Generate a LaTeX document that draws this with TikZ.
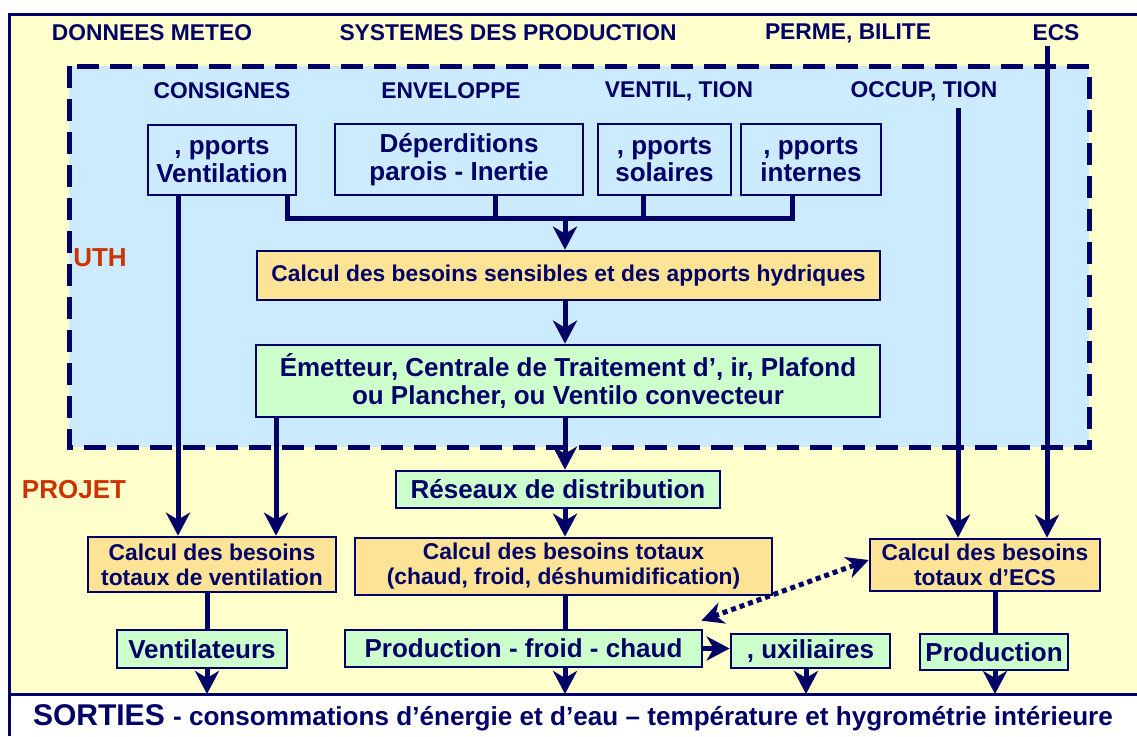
\documentclass[tikz,border=0pt]{standalone}
\usepackage{fontspec}
\setmainfont{Liberation Sans}
\usetikzlibrary{arrows.meta}
\definecolor{navy}{HTML}{000066}
\definecolor{bgy}{HTML}{FFFFCC}
\definecolor{bgb}{HTML}{CCEBFF}
\definecolor{org}{HTML}{FDE396}
\definecolor{grn}{HTML}{CCFFCC}
\definecolor{rd}{HTML}{CC3300}
\newcommand\fsA{\fontsize{26}{27.7}\selectfont\bfseries}
\newcommand\fsB{\fontsize{22.8}{25}\selectfont\bfseries}
\newcommand\fsC{\fontsize{26.1}{28}\selectfont\bfseries}
\newcommand\fsD{\fontsize{30}{30}\selectfont\bfseries}
\begin{document}
\begin{tikzpicture}[x=1pt,y=-1pt,
  bx/.style={draw=navy, line width=2.7pt, inner sep=0pt, align=center, text=navy},
  gbox/.style={bx, fill=grn, font=\fsA},
  bbox/.style={bx, fill=bgb, font=\fsA},
  obox/.style={bx, fill=org, font=\fsB},
  hd/.style={text=navy, font=\fsB, inner sep=0pt},
  lbl/.style={text=rd, font=\fsA, inner sep=0pt},
  ln/.style={draw=navy, line width=5pt},
  arr/.style={ln, -{Stealth[length=23pt,width=24pt,inset=7pt]}},
  dotarr/.style={draw=navy, line width=5pt, dash pattern=on 5pt off 4pt,
     {Stealth[length=22pt,width=22pt,inset=7pt]}-{Stealth[length=22pt,width=22pt,inset=7pt]}},
  frame/.style={draw=navy, line width=3pt}]
\useasboundingbox (0,0) rectangle (1137,736);
% backgrounds
\fill[white] (0,0) rectangle (1137,736);
\fill[bgy] (9,14) rectangle (1137,694);
\fill[bgb] (69,66) rectangle (1089,447);
\draw[navy, line width=5pt, dash pattern=on 22pt off 11pt] (69,66) rectangle (1089,447);
\draw[frame] (1137,14) -- (9,14) -- (9,736);
\coordinate (bot) at (9,694);
\draw[frame] (bot) -- (1137,694);
% headings
\node[hd] (h1) at (152,33) {DONNEES METEO};
\node[hd] (h2) at (508,33) {SYSTEMES DES PRODUCTION};
\node[hd] (h3) at (848,33) {PERME, BILITE};
\node[hd] (h4) at (1056,33) {ECS};
\node[hd] (h5) at (222,91) {CONSIGNES};
\node[hd] (h6) at (451,91) {ENVELOPPE};
\node[hd] (h7) at (679,91) {VENTIL, TION};
\node[hd] (h8) at (924,91) {OCCUP, TION};
\node[lbl] (uth) at (100,258) {UTH};
\node[lbl] (proj) at (74,490) {PROJET};
% boxes
\node[bbox, minimum width=148, minimum height=70] (av) at (222,160) {, pports\\Ventilation};
\node[bbox, minimum width=248, minimum height=71] (dep) at (459,159.5) {Déperditions\\parois - Inertie};
\node[bbox, minimum width=133, minimum height=71] (sol) at (664.5,159.5) {, pports\\solaires};
\node[bbox, minimum width=140, minimum height=71] (int) at (811,159.5) {, pports\\internes};
\node[obox, minimum width=623, minimum height=49] (sens) at (568.5,275.5) {Calcul des besoins sensibles et des apports hydriques};
\node[gbox, minimum width=624, minimum height=72] (em) at (568,381) {Émetteur, Centrale de Traitement d’, ir, Plafond\\ou Plancher, ou Ventilo convecteur};
\node[gbox, minimum width=324, minimum height=37] (res) at (558,489.5) {Réseaux de distribution};
\node[obox, minimum width=417, minimum height=57] (tot) at (563.5,566.5) {Calcul des besoins totaux\\(chaud, froid, déshumidification)};
\node[obox, minimum width=248, minimum height=55] (vc) at (212,564.5) {Calcul des besoins\\totaux de ventilation};
\node[gbox, minimum width=170, minimum height=38] (vent) at (202,649) {Ventilateurs};
\node[gbox, minimum width=357, minimum height=37] (pfc) at (523.5,648.5) {Production - froid - chaud};
\node[gbox, minimum width=159, minimum height=34] (aux) at (810.5,651) {, uxiliaires};
\node[obox, minimum width=230, minimum height=52] (ecs) at (985,565) {Calcul des besoins\\totaux d’ECS};
\node[gbox, minimum width=148, minimum height=36] (pecs) at (994,652) {Production};
% bottom text
\node[text=navy, inner sep=0pt] (sort) at (573,718) {\fsD SORTIES \fsC - consommations d’énergie et d’eau – température et hygrométrie intérieure};
% connectors
\coordinate (bus) at (565,218);
\coordinate (avL) at ([xshift=-44pt]av.south);
\coordinate (avR) at ([xshift=65pt]av.south);
\coordinate (depS) at ([xshift=36pt]dep.south);
\coordinate (solS) at ([xshift=-21.5pt]sol.south);
\coordinate (intS) at ([xshift=-19pt]int.south);
\coordinate (emL) at ([xshift=-292pt]em.south);
\coordinate (cV) at (207,0);
\coordinate (cA) at (806,0);
\coordinate (cE) at (995,0);
\coordinate (cO) at (958,108);
\coordinate (cS) at (1047,46);
\draw[arr] (avL) -- (avL |- vc.north);
\draw[ln] (avR) -- (avR |- bus) -- (intS |- bus) -- (intS);
\draw[ln] (depS) -- (depS |- bus);
\draw[ln] (solS) -- (solS |- bus);
\draw[arr] (bus) -- (bus |- sens.north);
\draw[arr] (sens.south -| bus) -- (em.north -| bus);
\draw[arr] (em.south -| bus) -- (res.north -| bus);
\draw[arr] (emL) -- (emL |- vc.north);
\draw[arr] (res.south -| bus) -- (tot.north -| bus);
\draw[ln] (tot.south -| bus) -- (pfc.north -| bus);
\draw[arr] (pfc.south -| bus) -- (bot -| bus);
\draw[ln] (vc.south -| cV) -- (vent.north -| cV);
\draw[arr] (vent.south -| cV) -- (bot -| cV);
\draw[arr] (pfc.east) -- (aux.west |- pfc.east);
\draw[arr] (aux.south -| cA) -- (bot -| cA);
\draw[ln] (ecs.south -| cE) -- (pecs.north -| cE);
\draw[arr] (pecs.south -| cE) -- (bot -| cE);
\draw[arr] (cO) -- (cO |- ecs.north);
\draw[arr] (cS) -- (cS |- ecs.north);
\draw[dotarr] ([xshift=-2pt,yshift=8pt]pfc.north east) -- ([yshift=5pt]ecs.west);
\end{tikzpicture}
\end{document}
